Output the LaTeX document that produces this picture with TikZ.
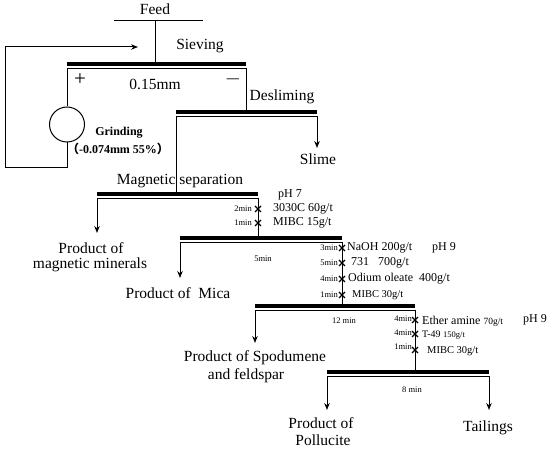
\documentclass[tikz,border=0pt]{standalone}
\usepackage{fontspec}
\setmainfont{Liberation Serif}
\newfontfamily\cjk{Noto Sans CJK SC}
\usetikzlibrary{arrows.meta}

\begin{document}
\begin{tikzpicture}[x=1pt, y=-1pt,
  flow/.style={line width=1pt},
  screen/.style={line width=4pt},
  underscreen/.style={line width=0.9pt},
  outflow/.style={line width=1pt, -{Stealth[length=7pt, width=5.5pt]}},
  big/.style={font=\fontsize{15.5}{17}\selectfont, inner sep=0pt},
  dose/.style={font=\fontsize{12}{14}\selectfont, inner sep=0pt, anchor=west},
  minlabel/.style={font=\fontsize{8.5}{10}\selectfont, inner sep=0pt},
  cross/.pic={\draw[line width=1.3pt] (-3,-3) -- (3,3) (-3,3) -- (3,-3);}]

 \useasboundingbox (0,0) rectangle (550,449);

 %%%%%%%%%% Screens (name/left/right/y) %%%%%%%%%%
 \foreach \n/\a/\b/\y in {sieve/67/246/64, desl/176/317/112, mag/97/258/194,
                          mica/180/342/238, spod/255/415/306, poll/327/489/372}
 {
   \draw [screen] (\a,\y) -- (\b,\y) ;
   \draw [underscreen] (\a,\y+4) -- (\b,\y+4) ;
   \coordinate (\n L) at (\a,\y+4);
   \coordinate (\n R) at (\b,\y+4);
 }

 %%%%%%%%%% Points pour travailler %%%%%%%%%%
 \coordinate (feedL) at (114,21);
 \coordinate (feedR) at (203,21);
 \coordinate (feedC) at (155,21);
 \coordinate (sieveIn) at (155,62);
 \coordinate (deslIn) at (246,110);
 \coordinate (magIn) at (176,192);
 \coordinate (micaIn) at (258,236);
 \coordinate (spodIn) at (342,304);
 \coordinate (pollIn) at (415,370);
 \coordinate (loopA) at (67,168);
 \coordinate (loopB) at (5,168);
 \coordinate (loopC) at (5,47);
 \coordinate (loopEnd) at (138,47);
 \coordinate (slime) at (317,148);
 \coordinate (magOut) at (97,233);
 \coordinate (micaOut) at (180,278);
 \coordinate (spodOut) at (255,343);
 \coordinate (pollOut) at (327,410);
 \coordinate (tailOut) at (489,410);

 %%%%%%%%%% Feed and sieving %%%%%%%%%%
 \node [big] (feed) at (155,9) {Feed};
 \draw [flow] (feedL) -- (feedR) ;
 \draw [flow] (feedC) -- (sieveIn) ;
 \node [big] (sieving) at (200,46) {Sieving};
 \node [font=\fontsize{21}{22}\selectfont, inner sep=0pt] (plus) at (80,80) {+};
 \node [font=\fontsize{21}{22}\selectfont, inner sep=0pt] (minus) at (233,79) {$-$};
 \node [big] (mesh) at (155,84) {0.15mm};

 % grinding loop
 \node [draw, circle, line width=1pt, minimum size=35pt, inner sep=0pt] (grind) at (67,124.5) {};
 \node [font=\bfseries\fontsize{12}{14}\selectfont, inner sep=0pt] (grindtxt) at (119,133) {Grinding};
 \node [font=\bfseries\fontsize{12}{14}\selectfont, inner sep=0pt] (grindsize) at (118,149)
   {{\cjk （}-0.074mm 55\%{\cjk ）}};
 \draw [flow] (sieveL) -- (grind.north) ;
 \draw [flow, -{Stealth[length=7pt, width=5.5pt]}] (grind.south) -- (loopA) -- (loopB) -- (loopC) -- (loopEnd) ;

 %%%%%%%%%% Desliming %%%%%%%%%%
 \draw [flow] (sieveR) -- (deslIn) ;
 \node [big] (desliming) at (282,97) {Desliming};
 \draw [outflow] (deslR) -- (slime) ;
 \node [big] (slimetxt) at (318,159) {Slime};

 %%%%%%%%%% Magnetic separation %%%%%%%%%%
 \draw [flow] (deslL) -- (magIn) ;
 \node [big] (magsep) at (180,181) {Magnetic separation};
 \draw [outflow] (magL) -- (magOut) ;
 \node [big] (magprod1) at (91,248) {Product of};
 \node [big] (magprod2) at (90,265) {magnetic minerals};

 \draw [flow] (magR) -- (micaIn) ;
 \node [dose] (ph7) at (278,195) {pH 7};
 \foreach \y/\t/\r in {209/2min/{3030C 60g/t}, 223/1min/{MIBC 15g/t}}
 {
   \pic at (258,\y) {cross};
   \node [minlabel, anchor=east] at (252,\y) {\t};
   \node [dose] at (273,\y) {\r};
 }

 %%%%%%%%%% Mica flotation %%%%%%%%%%
 \node [minlabel] (micatime) at (263,259) {5min};
 \draw [outflow] (micaL) -- (micaOut) ;
 \node [big] (micaprod) at (178,293) {Product of\ \ Mica};

 \draw [flow] (micaR) -- (spodIn) ;
 \pic at (342,248) {cross};
 \pic at (342,263) {cross};
 \pic at (342,279) {cross};
 \pic at (342,295) {cross};
 \node [minlabel, anchor=east] at (338,248) {3min};
 \node [minlabel, anchor=east] at (338,263) {5min};
 \node [minlabel, anchor=east] at (338,279) {4min};
 \node [minlabel, anchor=east] at (338,295) {1min};
 \node [dose] (naoh) at (347,248) {NaOH 200g/t};
 \node [dose] (r731) at (351,263) {731\ \ \ 700g/t};
 \node [dose] (oleate) at (348,279) {Odium oleate\ \ 400g/t};
 \node [dose, font=\fontsize{10.5}{12}\selectfont] (mibcA) at (352,295) {MIBC 30g/t};
 \node [dose] (ph9a) at (432,248) {pH 9};

 %%%%%%%%%% Spodumene and feldspar flotation %%%%%%%%%%
 \node [minlabel] (spodtime) at (344,321) {12 min};
 \draw [outflow] (spodL) -- (spodOut) ;
 \node [big] (spodprod1) at (255,358) {Product of Spodumene};
 \node [big] (spodprod2) at (246,376) {and feldspar};

 \draw [flow] (spodR) -- (pollIn) ;
 \pic at (415,320) {cross};
 \pic at (415,334) {cross};
 \pic at (415,350) {cross};
 \node [minlabel, anchor=east] at (412,319) {4min};
 \node [minlabel, anchor=east] at (412,333) {4min};
 \node [minlabel, anchor=east] at (412,347) {1min};
 \node [dose] (ether) at (422,321) {Ether amine {\fontsize{9.5}{11}\selectfont 70g/t}};
 \node [dose, font=\fontsize{10}{12}\selectfont] (t49) at (422,335) {T-49 {\fontsize{8.5}{10}\selectfont 150g/t}};
 \node [dose, font=\fontsize{10.5}{12}\selectfont] (mibcB) at (427,351) {MIBC 30g/t};
 \node [dose] (ph9b) at (523,320) {pH 9};

 %%%%%%%%%% Pollucite flotation %%%%%%%%%%
 \node [minlabel] (polltime) at (412,390) {8 min};
 \draw [outflow] (pollL) -- (pollOut) ;
 \draw [outflow] (pollR) -- (tailOut) ;
 \node [big] (pollprod1) at (321,423) {Product of};
 \node [big] (pollprod2) at (323,440) {Pollucite};
 \node [big] (tailings) at (488,428) {Tailings};

\end{tikzpicture}
\end{document}
